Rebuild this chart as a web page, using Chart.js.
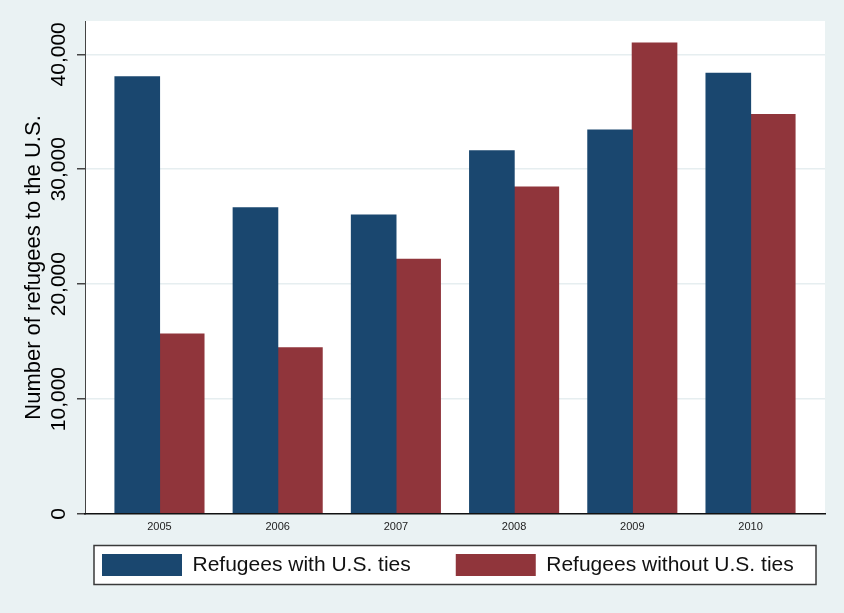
<!DOCTYPE html>
<html>
<head>
<meta charset="utf-8">
<title>Refugees to the U.S.</title>
<script src="https://cdn.jsdelivr.net/npm/chart.js@4.4.0/dist/chart.umd.min.js"></script>
<style>
  body { margin: 0; background: #eaf2f3; }
  canvas { display: block; }
</style>
</head>
<body>
<canvas id="refugeeChart" width="844" height="613"></canvas>
<script>
const years = [2005, 2006, 2007, 2008, 2009, 2010];
const withTies = [38050, 26650, 26000, 31600, 33400, 38350];
const withoutTies = [15650, 14450, 22150, 28450, 40980, 34750];
const yTicks = [0, 10000, 20000, 30000, 40000];
const seriesLabels = ['Refugees with U.S. ties', 'Refugees without U.S. ties'];

const BG = '#eaf2f3';
const LEGEND_PAD = 45;

// stata-ish look: grey page, white plot region, framed legend under the plot
const stataPlugin = {
  id: 'stataLook',
  afterLayout(chart) {
    const legend = chart.legend;
    const area = chart.chartArea;
    legend.left = area.left + 17 - LEGEND_PAD;
    legend.right = chart.width;
    legend.width = legend.right - legend.left;
    legend.top = area.bottom + 40 - LEGEND_PAD;
    legend.bottom = legend.top + legend.height;
  },
  beforeDraw(chart) {
    const { ctx, chartArea: area } = chart;
    ctx.save();
    ctx.fillStyle = BG;
    ctx.fillRect(0, 0, chart.width, chart.height);
    ctx.fillStyle = '#ffffff';
    ctx.fillRect(area.left, area.top, area.width, area.height);

    const cy = area.bottom + 51;
    ctx.fillRect(area.left + 9, cy - 19.5, area.width - 18, 39);
    ctx.strokeStyle = '#3a3a3a';
    ctx.lineWidth = 1.5;
    ctx.strokeRect(area.left + 9, cy - 19.5, area.width - 18, 39);
    ctx.restore();
  }
};

Chart.defaults.font.family = "'Liberation Sans', Arial, sans-serif";

new Chart(document.getElementById('refugeeChart'), {
  type: 'bar',
  data: {
    datasets: [
      {
        label: seriesLabels[0],
        data: years.map((yr, i) => ({ x: yr, y: withTies[i] })),
        backgroundColor: '#1a476f',
        borderWidth: 0
      },
      {
        label: seriesLabels[1],
        data: years.map((yr, i) => ({ x: yr, y: withoutTies[i] })),
        backgroundColor: '#90353b',
        borderWidth: 0
      }
    ]
  },
  options: {
    responsive: false,
    animation: false,
    devicePixelRatio: 1,
    datasets: {
      bar: { barPercentage: 1, categoryPercentage: 0.752, inflateAmount: 0.6 }
    },
    layout: {
      padding: { top: 21, right: 19, bottom: 0, left: 0 }
    },
    plugins: {
      tooltip: { enabled: false },
      legend: {
        position: 'bottom',
        align: 'start',
        labels: {
          boxWidth: 80,
          boxHeight: 22,
          padding: LEGEND_PAD,
          color: '#111',
          font: { size: 21 }
        }
      }
    },
    scales: {
      x: {
        type: 'linear',
        min: 2004.37,
        max: 2010.63,
        offset: false,
        grid: { display: false, drawTicks: false },
        border: { display: true, color: '#111', width: 1.5, z: 1 },
        ticks: {
          font: { size: 11 },
          color: '#222',
          padding: 6,
          callback: (v) => String(v)
        },
        afterBuildTicks: (s) => { s.ticks = years.map(v => ({ value: v })); },
        afterFit: (s) => { s.height = 22; }
      },
      y: {
        min: 0,
        max: 42900,
        grid: {
          color: (c) => (c.tick && c.tick.value === 0 ? 'rgba(0,0,0,0)' : '#e6eef0'),
          lineWidth: 1.5,
          tickColor: '#444',
          tickLength: 8
        },
        border: { color: '#444', width: 1 },
        ticks: {
          font: { size: 21 },
          color: '#000',
          minRotation: 90,
          maxRotation: 90,
          crossAlign: 'center',
          padding: -14.5,
          callback: (v) => v.toLocaleString('en-US')
        },
        afterBuildTicks: (s) => { s.ticks = yTicks.map(v => ({ value: v })); },
        afterFit: (s) => { s.width = 85; },
        title: {
          display: true,
          text: 'Number of refugees to the U.S.',
          color: '#000',
          font: { size: 22 },
          padding: { top: 21, bottom: 0 }
        }
      }
    }
  },
  plugins: [stataPlugin]
});
</script>
</body>
</html>
